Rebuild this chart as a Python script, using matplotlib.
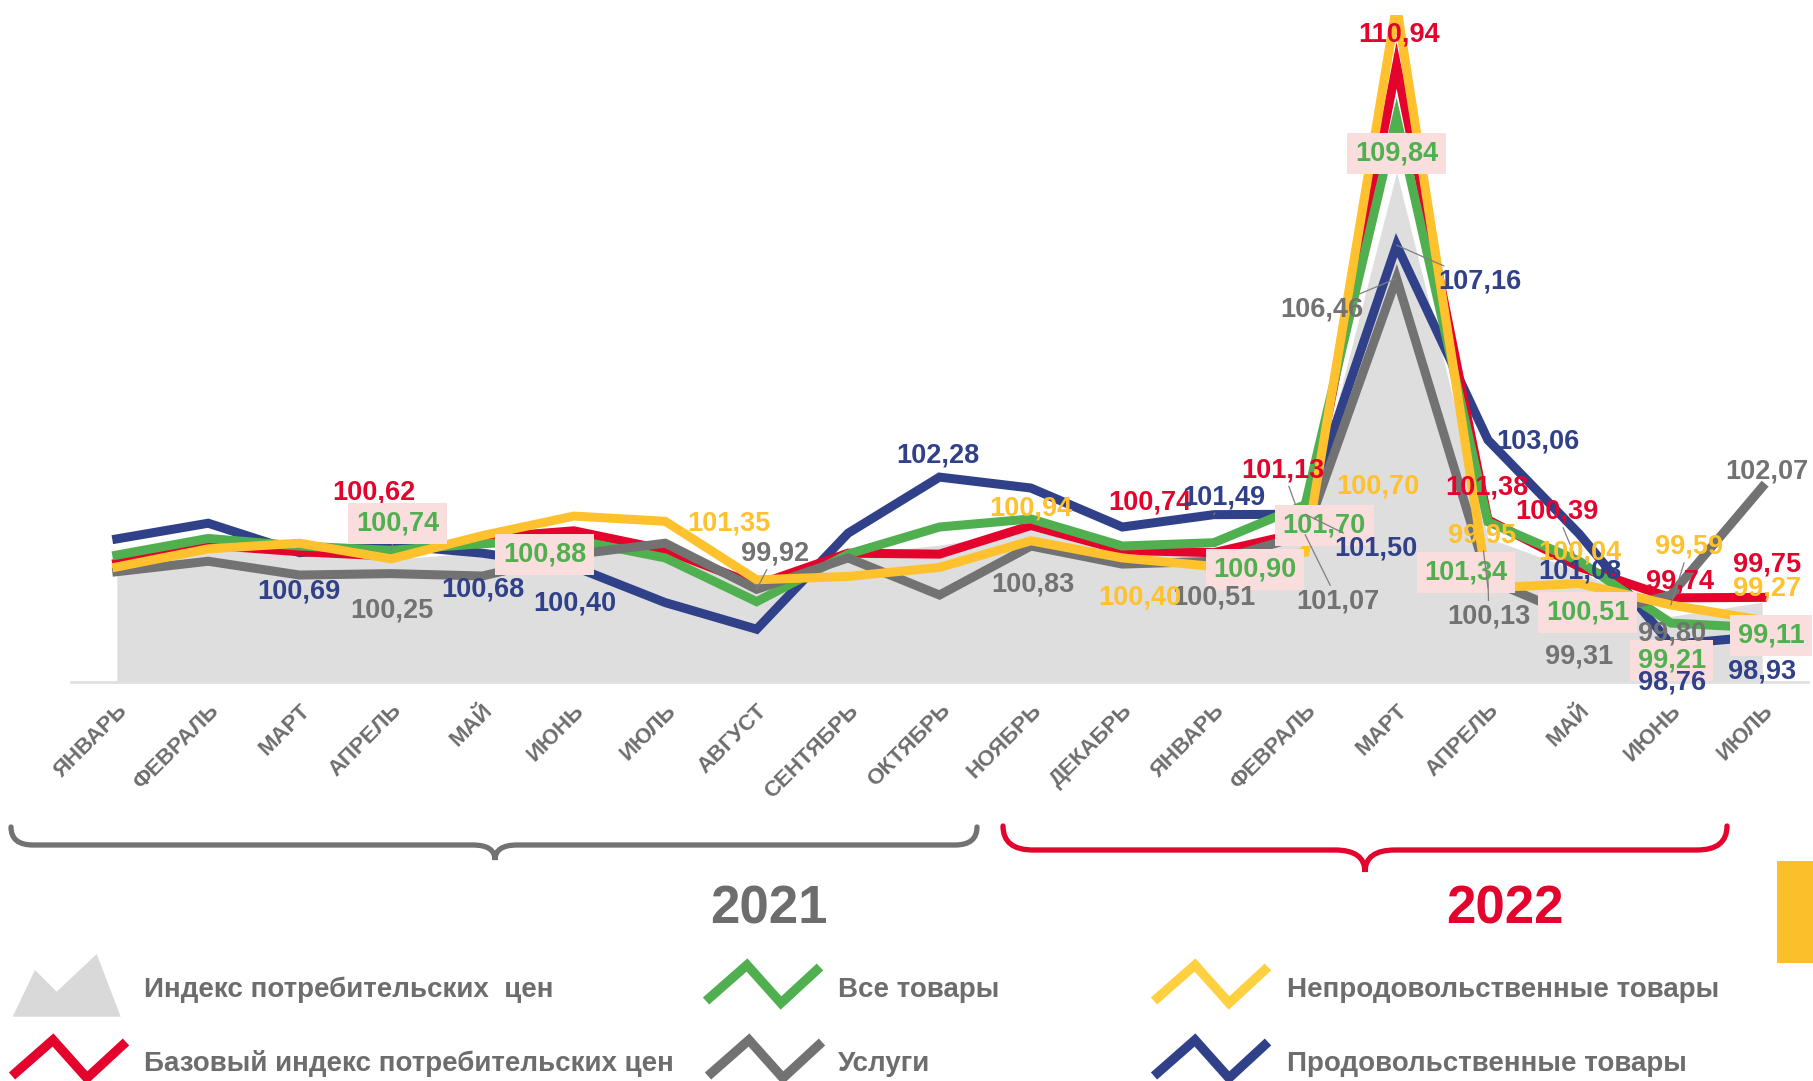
import matplotlib
matplotlib.use('Agg')
import matplotlib.pyplot as plt
import matplotlib.patches as patches
from matplotlib.path import Path

plt.rcParams['font.family'] = ['Liberation Sans', 'DejaVu Sans']
plt.rcParams['font.weight'] = 'bold'

# месяцы (январь 2021 - июль 2022)
months = ['ЯНВАРЬ', 'ФЕВРАЛЬ', 'МАРТ', 'АПРЕЛЬ', 'МАЙ', 'ИЮНЬ', 'ИЮЛЬ', 'АВГУСТ',
          'СЕНТЯБРЬ', 'ОКТЯБРЬ', 'НОЯБРЬ', 'ДЕКАБРЬ', 'ЯНВАРЬ', 'ФЕВРАЛЬ', 'МАРТ',
          'АПРЕЛЬ', 'МАЙ', 'ИЮНЬ', 'ИЮЛЬ']

# значения
cpi = [100.45, 100.75, 100.65, 100.55, 100.70, 100.85, 100.75, 99.85, 100.65, 100.85,
       101.15, 100.75, 100.70, 101.20, 108.70, 101.00, 100.30, 99.35, 99.65]
core = [100.47, 100.85, 100.71, 100.62, 101.00, 101.15, 100.75, 100.01, 100.68, 100.66,
        101.26, 100.74, 100.69, 101.13, 110.94, 101.38, 100.39, 99.74, 99.75]
goods = [100.64, 100.99, 100.83, 100.74, 100.88, 100.96, 100.58, 99.66, 100.66, 101.23,
         101.40, 100.83, 100.90, 101.70, 109.84, 101.34, 100.51, 99.21, 99.11]
services = [100.29, 100.51, 100.22, 100.25, 100.20, 100.65, 100.89, 99.92, 100.58, 99.80,
            100.83, 100.45, 100.51, 101.07, 106.46, 100.13, 99.31, 99.80, 102.07]
nonfood = [100.39, 100.77, 100.89, 100.56, 101.05, 101.46, 101.35, 100.12, 100.19, 100.38,
           100.94, 100.58, 100.40, 100.70, 112.20, 99.95, 100.04, 99.59, 99.27]
food = [100.98, 101.31, 100.69, 100.85, 100.68, 100.40, 99.64, 99.08, 101.10, 102.28,
        102.05, 101.23, 101.49, 101.50, 107.16, 103.06, 101.08, 98.76, 98.93]

RED = '#e3032d'
GREEN = '#50b04f'
YELLOW = '#ffc12d'
BLUE = '#30418a'
GRAY = '#727272'
TXT = '#6d6d6d'
AREA = '#dedede'
PINK = '#fadddd'

series = {
    'core': (core, RED),
    'goods': (goods, GREEN),
    'services': (services, GRAY),
    'nonfood': (nonfood, YELLOW),
    'food': (food, BLUE),
}

# подписи: ряд, месяц, сдвиг подписи (по x, по y), рамка, выноска
labels = [
    ('core', 3, -0.19, 1.34, False, False),
    ('core', 11, 0.30, 1.00, False, False),
    ('core', 13, -0.24, 1.29, False, True),
    ('core', 14, 0.03, 0.64, False, False),
    ('core', 15, -0.01, 0.68, False, False),
    ('core', 16, -0.25, 1.16, False, True),
    ('core', 17, 0.10, 0.35, False, False),
    ('core', 18, 0.05, 0.70, False, False),
    ('goods', 3, 0.07, 0.56, True, True),
    ('goods', 4, 0.68, -0.23, True, False),
    ('goods', 12, 0.45, -0.57, True, False),
    ('goods', 13, 0.21, -0.44, True, False),
    ('goods', 14, 0.00, -0.75, True, False),
    ('goods', 15, -0.24, -1.06, True, False),
    ('goods', 16, 0.09, -1.08, True, False),
    ('goods', 17, 0.01, -0.78, True, False),
    ('goods', 18, 0.10, -0.17, True, False),
    ('food', 2, -0.01, -0.82, False, False),
    ('food', 4, 0.01, -0.76, False, False),
    ('food', 5, 0.01, -0.78, False, False),
    ('food', 9, -0.02, 0.46, False, False),
    ('food', 12, 0.11, 0.37, False, True),
    ('food', 13, 0.77, -0.73, False, True),
    ('food', 14, 0.91, -0.77, False, True),
    ('food', 15, 0.55, -0.03, False, False),
    ('food', 16, 0.01, -0.78, False, False),
    ('food', 17, 0.01, -0.79, False, False),
    ('food', 18, 0.00, -0.74, False, False),
    ('services', 3, 0.01, -0.77, False, False),
    ('services', 7, 0.20, 0.75, False, True),
    ('services', 10, 0.02, -0.80, False, False),
    ('services', 12, 0.00, -0.77, False, False),
    ('services', 13, 0.36, -1.40, False, True),
    ('services', 14, -0.82, -0.66, False, True),
    ('services', 15, 0.01, -0.78, False, True),
    ('services', 16, 0.00, -0.81, False, False),
    ('services', 17, 0.01, -0.81, False, False),
    ('services', 18, 0.05, 0.33, False, False),
    ('nonfood', 6, 0.70, -0.05, False, False),
    ('nonfood', 10, 0.00, 0.68, False, False),
    ('nonfood', 12, -0.81, -0.66, False, False),
    ('nonfood', 13, 0.80, 1.38, False, False),
    ('nonfood', 15, -0.07, 1.11, False, True),
    ('nonfood', 16, 0.01, 0.65, False, False),
    ('nonfood', 17, 0.20, 1.22, False, True),
    ('nonfood', 18, 0.05, 0.67, False, False),
]

fig = plt.figure(figsize=(18.13, 10.81), dpi=100)
ax = fig.add_axes([0.0392, 0.3691, 0.958, 0.617])

x = list(range(len(months)))
ymin, ymax = 97.97, 112.0

ax.fill_between(x, ymin, cpi, color=AREA, lw=0, zorder=1)
for key in ['food', 'core', 'goods', 'services', 'nonfood']:
    vals, col = series[key]
    ax.plot(x, vals, color=col, lw=6.5, solid_joinstyle='miter', zorder=2)

for key, i, dx, dy, boxed, leader in labels:
    vals, col = series[key]
    v = vals[i]
    txt = f'{v:.2f}'.replace('.', ',')
    kw = {}
    if boxed:
        kw['bbox'] = dict(boxstyle='square,pad=0.28', fc=PINK, ec='none')
    if leader:
        kw['arrowprops'] = dict(arrowstyle='-', color='#7f7f7f', lw=0.9,
                                shrinkA=0, shrinkB=0)
    ax.annotate(txt, xy=(i, v), xytext=(i + dx, v + dy), textcoords='data',
                ha='center', va='center', fontsize=19.5, fontweight='bold',
                color=col, zorder=5, annotation_clip=False, **kw)

ax.set_xlim(-0.5, len(months) - 0.5)
ax.set_ylim(ymin, ymax)
ax.set_yticks([])
ax.set_xticks(x)
ax.set_xticklabels(months, rotation=45, ha='right', rotation_mode='anchor',
                   fontsize=16, fontweight='bold', color=TXT)
ax.tick_params(axis='x', length=0, pad=13)
for s in ['top', 'right', 'left']:
    ax.spines[s].set_visible(False)
ax.spines['bottom'].set_color('#e0e0e0')
ax.spines['bottom'].set_linewidth(2)

# нижняя часть: фигурные скобки, годы, легенда (в пикселях картинки)
ov = fig.add_axes([0, 0, 1, 1], zorder=-1)
ov.set_xlim(0, 1813)
ov.set_ylim(1081, 0)
ov.axis('off')


def brace(x0, x1, xm, ytop, yh, ytip, r, color):
    verts = [(x0, ytop), (x0, yh), (x0 + r, yh), (xm - r, yh), (xm, yh), (xm, ytip),
             (xm, yh), (xm + r, yh), (x1 - r, yh), (x1, yh), (x1, ytop)]
    codes = [Path.MOVETO, Path.CURVE3, Path.CURVE3, Path.LINETO, Path.CURVE3, Path.CURVE3,
             Path.CURVE3, Path.CURVE3, Path.LINETO, Path.CURVE3, Path.CURVE3]
    ov.add_patch(patches.PathPatch(Path(verts, codes), fc='none', ec=color, lw=3.8,
                                   capstyle='round'))


brace(11, 977, 495, 827, 845, 860, 22, GRAY)
brace(1003, 1727, 1365, 826, 850, 872, 30, RED)

ov.text(769, 923, '2021', ha='center', va='baseline', fontsize=38, fontweight='bold', color=TXT)
ov.text(1505, 923, '2022', ha='center', va='baseline', fontsize=38, fontweight='bold', color=RED)

ov.add_patch(patches.Rectangle((1777, 861), 40, 102, fc='#fbbf2c', ec='none'))

# легенда
ov.add_patch(patches.Polygon([(12.7, 1016.7), (35, 970), (56.7, 991.7), (96.7, 954),
                              (120.7, 1016.7)], closed=True, fc='#d9d9d9', ec='none'))
zig = [(0, 36), (41, 0), (75, 38), (114, 2)]


def zigzag(x0, y0, color):
    ov.plot([x0 + a for a, b in zig], [y0 + b for a, b in zig], color=color, lw=6.8,
            solid_joinstyle='miter', solid_capstyle='butt')


zigzag(706, 965, GREEN)
zigzag(1154, 965, '#ffd040')
zigzag(12, 1040, RED)
zigzag(708, 1040, GRAY)
zigzag(1154, 1040, BLUE)

leg = [(144, 997, 'Индекс потребительских  цен'),
       (838, 997, 'Все товары'),
       (1287, 997, 'Непродовольственные товары'),
       (144, 1071, 'Базовый индекс потребительских цен'),
       (838, 1071, 'Услуги'),
       (1287, 1071, 'Продовольственные товары')]
for lx, ly, t in leg:
    ov.text(lx, ly, t, ha='left', va='baseline', fontsize=20, fontweight='bold', color=TXT)

fig.savefig('out.png', dpi=100)
